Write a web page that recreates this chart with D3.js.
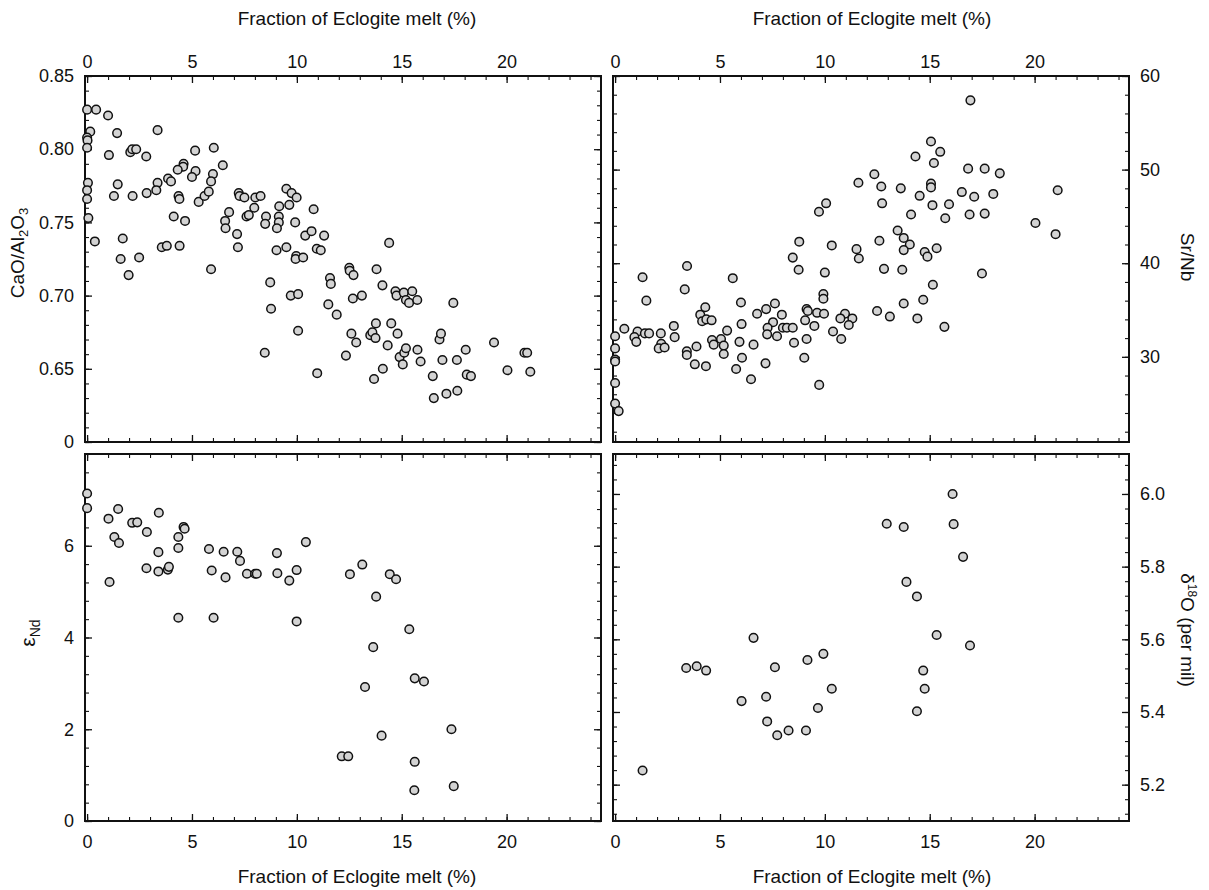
<!DOCTYPE html>
<html>
<head>
<meta charset="utf-8">
<script src="https://cdn.jsdelivr.net/npm/d3@7"></script>
<style>
  body { margin: 0; background: #fff; }
  svg text { font-family: "Liberation Sans", Arial, Helvetica, sans-serif; fill: #111; }
</style>
</head>
<body>
<script>
// fraction of eclogite melt (%) vs CaO/Al2O3
const caoAlData = [
  [0,0.827],[0.43,0.827],[1.0,0.823],[0.15,0.812],[0,0.808],[0.02,0.806],[0,0.801],
  [3.36,0.813],[1.43,0.811],[1.04,0.796],[2.06,0.798],[2.15,0.800],[2.34,0.800],[2.82,0.795],
  [5.15,0.799],[6.04,0.801],[6.47,0.789],[4.6,0.790],[4.58,0.788],[4.32,0.786],[5.17,0.785],
  [5.0,0.781],[6.0,0.783],[5.91,0.778],[3.86,0.780],[4.0,0.778],[3.36,0.777],[3.30,0.772],[2.84,0.770],
  [0.04,0.777],[0,0.772],[0,0.766],[1.46,0.776],[1.28,0.768],[2.17,0.768],[4.36,0.768],[4.4,0.766],
  [5.32,0.764],[5.6,0.768],[5.8,0.771],
  [0.06,0.753],[0.37,0.737],[1.7,0.739],[1.6,0.725],[2.48,0.726],[1.98,0.714],[3.56,0.733],[3.8,0.734],
  [4.41,0.734],[4.13,0.754],[4.67,0.751],[5.91,0.718],
  [7.23,0.770],[7.27,0.768],[7.5,0.767],[8.02,0.767],[8.27,0.768],[7.97,0.760],[7.6,0.754],[7.71,0.755],
  [6.77,0.757],[6.58,0.751],[6.6,0.746],[7.15,0.742],[7.19,0.733],
  [8.53,0.754],[8.49,0.749],[9.16,0.761],[9.14,0.754],[9.14,0.750],[9.05,0.746],[9.5,0.773],[9.75,0.770],
  [9.99,0.767],[9.64,0.762],[9.92,0.750],[10.8,0.759],[10.4,0.741],[10.7,0.744],[11.3,0.741],[10.95,0.732],
  [11.14,0.731],[9.03,0.731],[9.5,0.733],[9.97,0.727],[9.94,0.725],[10.3,0.726],
  [8.73,0.709],[8.77,0.691],[8.47,0.661],[9.71,0.700],[10.06,0.701],[10.06,0.676],[10.97,0.647],
  [11.58,0.712],[11.62,0.708],[11.5,0.694],[11.9,0.687],
  [12.5,0.719],[12.52,0.717],[12.7,0.714],[12.67,0.698],[13.1,0.700],[13.8,0.718],[14.08,0.707],[14.4,0.736],
  [14.7,0.703],[14.75,0.700],[15.1,0.702],[15.2,0.697],[15.35,0.695],[15.5,0.703],[15.74,0.697],
  [12.6,0.674],[12.83,0.668],[12.34,0.659],[13.5,0.673],[13.6,0.675],[13.75,0.671],[13.77,0.681],
  [13.68,0.643],[14.1,0.650],[14.33,0.666],[14.5,0.681],[14.8,0.674],[14.9,0.658],[15.05,0.653],
  [15.12,0.661],[15.2,0.664],[15.75,0.663],[15.9,0.655],[16.48,0.645],[16.53,0.630],[16.8,0.670],
  [16.87,0.674],[16.94,0.656],[17.13,0.633],[17.46,0.695],[17.63,0.656],[17.65,0.635],[18.05,0.663],
  [18.1,0.646],[18.3,0.645],[19.4,0.668],[20.04,0.649],[20.85,0.661],[20.98,0.661],[21.13,0.648]
];

// fraction vs Sr/Nb
const srNbData = [
  [16.94,57.4],[15.06,53.0],[15.5,51.9],[14.32,51.4],[15.2,50.7],[12.36,49.5],[16.83,50.1],[17.62,50.1],
  [18.34,49.6],[11.6,48.6],[12.69,48.2],[13.62,48.0],[15.06,48.5],[15.06,48.1],[16.53,47.6],[17.12,47.1],
  [18.03,47.4],[21.1,47.8],[14.52,47.2],[10.06,46.4],[9.72,45.5],[12.73,46.4],[15.13,46.2],[15.92,46.3],
  [14.11,45.2],[15.74,44.8],[16.9,45.2],[17.62,45.3],[20.04,44.3],[21.0,43.1],
  [13.47,43.5],[13.76,42.7],[14.05,42.0],[13.76,41.4],[12.6,42.4],[10.33,41.9],[8.78,42.3],[11.51,41.5],
  [11.62,40.5],[14.76,41.2],[14.89,40.7],[15.33,41.6],[8.47,40.6],[8.75,39.3],[10.0,39.0],[12.82,39.4],
  [13.69,39.3],[17.49,38.9],[3.43,39.7],[1.31,38.5],[5.61,38.4],[3.32,37.2],[15.15,37.7],[1.49,36.0],
  [9.93,36.7],[9.93,36.2],[6.0,35.8],[7.62,35.7],[13.76,35.7],[14.69,36.1],[4.3,35.3],[7.2,35.1],
  [9.13,35.1],[9.19,34.9],[6.77,34.6],[7.95,34.5],[9.63,34.7],[9.96,34.6],[10.96,34.6],[12.49,34.9],
  [13.1,34.3],[4.06,34.5],[4.15,33.8],[4.35,34.0],[4.6,33.9],[2.8,33.3],[6.03,33.5],[7.53,33.7],
  [7.27,33.1],[9.06,33.9],[10.74,34.1],[11.31,34.1],[11.14,33.4],[8.0,33.1],[8.19,33.1],[8.47,33.1],
  [9.5,33.3],[14.41,34.1],[15.7,33.2],[0.44,33.0],[1.07,32.7],[0.92,32.1],[1.01,31.6],[1.42,32.5],
  [1.62,32.5],[2.18,32.5],[2.84,32.1],[0,32.2],[2.2,31.4],[2.08,30.9],[2.36,31.0],[0,30.9],[0,29.7],
  [0,29.5],[0,27.2],[0,25.0],[0.17,24.2],[3.88,31.1],[3.42,30.6],[3.42,30.2],[3.8,29.2],[4.33,29.0],
  [4.62,31.8],[4.7,31.3],[5.05,31.9],[5.18,31.2],[5.18,30.3],[5.34,32.8],[5.93,31.6],[6.05,29.9],
  [5.77,28.7],[6.6,31.3],[6.48,27.6],[7.17,29.3],[7.25,32.4],[7.72,32.2],[8.53,31.5],[9.13,31.9],
  [9.02,29.9],[9.73,27.0],[10.39,32.7],[10.78,31.9]
];

// fraction vs epsilon Nd
const eNdData = [
  [0,7.14],[0,6.82],[1.02,6.59],[1.48,6.80],[3.42,6.72],[2.15,6.50],[2.39,6.51],[4.6,6.41],[4.65,6.37],
  [2.85,6.30],[1.3,6.19],[1.52,6.06],[4.35,6.19],[4.35,5.95],[10.43,6.08],[5.81,5.93],[6.51,5.87],
  [7.16,5.87],[7.29,5.67],[9.05,5.84],[3.4,5.86],[2.83,5.51],[3.4,5.44],[3.85,5.48],[3.9,5.54],
  [5.94,5.46],[6.6,5.31],[7.62,5.39],[8.01,5.39],[8.09,5.39],[9.07,5.40],[9.64,5.24],[9.99,5.47],
  [1.07,5.21],[4.35,4.43],[6.03,4.43],[9.99,4.35],[13.12,5.59],[12.53,5.38],[14.43,5.38],[14.73,5.27],
  [13.78,4.89],[15.36,4.18],[13.64,3.79],[15.62,3.11],[16.06,3.04],[13.25,2.92],[17.37,2.0],
  [14.04,1.86],[12.14,1.41],[12.45,1.41],[15.62,1.29],[15.6,0.67],[17.48,0.76]
];

// fraction vs delta 18O (per mil)
const d18OData = [
  [16.09,6.00],[12.95,5.918],[13.76,5.909],[16.14,5.917],[16.59,5.827],[13.89,5.758],[14.39,5.718],
  [15.33,5.612],[16.92,5.583],[6.6,5.604],[9.93,5.560],[9.17,5.543],[7.62,5.523],[3.39,5.521],
  [3.89,5.526],[4.34,5.514],[14.69,5.514],[14.76,5.464],[10.33,5.464],[7.2,5.442],[6.03,5.430],
  [9.67,5.411],[14.39,5.402],[7.25,5.374],[7.73,5.336],[8.27,5.349],[9.1,5.349],[1.31,5.239]
];

const xMajorTicks = [0, 5, 10, 15, 20];
const xMinorTicks = d3.range(0, 25, 1);
const caoMajorTicks = [0.60, 0.65, 0.70, 0.75, 0.80, 0.85];
const caoMinorTicks = d3.range(0.60, 0.851, 0.01);
const srNbMajorTicks = [30, 40, 50, 60];
const srNbMinorTicks = d3.range(22, 60.1, 2);
const eNdMajorTicks = [0, 2, 4, 6];
const eNdMinorTicks = d3.range(0, 8.01, 0.4);
const d18OMajorTicks = [5.2, 5.4, 5.6, 5.8, 6.0];
const d18OMinorTicks = d3.range(5.12, 6.11, 0.04);

const xTitle = "Fraction of Eclogite melt (%)";

const width = 1209, height = 890;
const svg = d3.select("body").append("svg")
  .attr("width", width).attr("height", height);

const leftX = [85, 601], rightX = [613, 1129];
const topY = [442, 76], bottomY = [821, 454];
const xDomain = [-0.1, 24.5];
const tickFont = 18;
const titleFont = 19;

const panels = [
  { data: caoAlData, xr: leftX, yr: topY, yDomain: [0.60, 0.85], major: caoMajorTicks, minor: caoMinorTicks,
    fmt: d => Math.abs(d - 0.6) < 1e-9 ? "0" : d3.format(".2f")(d), xLabelSide: "top", yLabelSide: "left" },
  { data: srNbData, xr: rightX, yr: topY, yDomain: [20.9, 60], major: srNbMajorTicks, minor: srNbMinorTicks,
    fmt: d3.format("d"), xLabelSide: "top", yLabelSide: "right" },
  { data: eNdData, xr: leftX, yr: bottomY, yDomain: [0, 8], major: eNdMajorTicks, minor: eNdMinorTicks,
    fmt: d3.format("d"), xLabelSide: "bottom", yLabelSide: "left" },
  { data: d18OData, xr: rightX, yr: bottomY, yDomain: [5.1, 6.11], major: d18OMajorTicks, minor: d18OMinorTicks,
    fmt: d3.format(".1f"), xLabelSide: "bottom", yLabelSide: "right" }
];

panels.forEach(p => {
  const x = d3.scaleLinear().domain(xDomain).range(p.xr);
  const y = d3.scaleLinear().domain(p.yDomain).range(p.yr);
  const g = svg.append("g");
  const [x0, x1] = p.xr, [y0, y1] = [p.yr[1], p.yr[0]];

  const sides = [
    { axis: d3.axisTop, pos: `translate(0,${y0})`, scale: x, major: xMajorTicks, minor: xMinorTicks,
      labels: p.xLabelSide === "top", fmt: d3.format("d"), pad: 8 },
    { axis: d3.axisBottom, pos: `translate(0,${y1})`, scale: x, major: xMajorTicks, minor: xMinorTicks,
      labels: p.xLabelSide === "bottom", fmt: d3.format("d"), pad: 14 },
    { axis: d3.axisLeft, pos: `translate(${x0},0)`, scale: y, major: p.major, minor: p.minor,
      labels: p.yLabelSide === "left", fmt: p.fmt, pad: 11 },
    { axis: d3.axisRight, pos: `translate(${x1},0)`, scale: y, major: p.major, minor: p.minor,
      labels: p.yLabelSide === "right", fmt: p.fmt, pad: 11 }
  ];

  sides.forEach(s => {
    const minorG = g.append("g").attr("transform", s.pos)
      .call(s.axis(s.scale).tickValues(s.minor).tickSize(-4).tickFormat(""));
    minorG.select(".domain").remove();
    minorG.selectAll("line").attr("stroke", "#111").attr("stroke-width", 1.1);

    const majorG = g.append("g").attr("transform", s.pos)
      .call(s.axis(s.scale).tickValues(s.major).tickSize(-7).tickPadding(s.pad)
        .tickFormat(s.labels ? s.fmt : ""));
    majorG.select(".domain").remove();
    majorG.selectAll("line").attr("stroke", "#111").attr("stroke-width", 1.3);
    majorG.selectAll("text").attr("font-size", tickFont).attr("font-family", null).attr("fill", "#111");
  });

  g.append("rect")
    .attr("x", x0).attr("y", y0)
    .attr("width", x1 - x0).attr("height", y1 - y0)
    .attr("fill", "none").attr("stroke", "#111").attr("stroke-width", 2);

  g.append("g").selectAll("circle")
    .data(p.data)
    .join("circle")
    .attr("cx", d => x(d[0]))
    .attr("cy", d => y(d[1]))
    .attr("r", 4.3)
    .attr("fill", "#d3d3d3")
    .attr("stroke", "#111")
    .attr("stroke-width", 1.5);
});

// x axis titles
[[357, 25], [872, 25], [357, 883], [872, 883]].forEach(([cx, cy]) => {
  svg.append("text")
    .attr("x", cx).attr("y", cy)
    .attr("text-anchor", "middle")
    .attr("font-size", titleFont)
    .text(xTitle);
});

// y axis titles
const cao = svg.append("text")
  .attr("transform", "translate(24,253) rotate(-90)")
  .attr("text-anchor", "middle")
  .attr("font-size", titleFont);
cao.append("tspan").text("CaO/Al");
cao.append("tspan").attr("font-size", 13).attr("dy", 4).text("2");
cao.append("tspan").attr("dy", -4).text("O");
cao.append("tspan").attr("font-size", 13).attr("dy", 4).text("3");

const end = svg.append("text")
  .attr("transform", "translate(35,633) rotate(-90)")
  .attr("text-anchor", "middle")
  .attr("font-size", 21);
end.append("tspan").text("ε");
end.append("tspan").attr("font-size", 14).attr("dy", 5).text("Nd");

svg.append("text")
  .attr("transform", "translate(1181,257) rotate(90)")
  .attr("text-anchor", "middle")
  .attr("font-size", titleFont)
  .text("Sr/Nb");

const dO = svg.append("text")
  .attr("transform", "translate(1181,630) rotate(90)")
  .attr("text-anchor", "middle")
  .attr("font-size", titleFont);
dO.append("tspan").text("δ");
dO.append("tspan").attr("font-size", 12).attr("dy", -7).text("18");
dO.append("tspan").attr("dy", 7).text("O (per mil)");
</script>
</body>
</html>
